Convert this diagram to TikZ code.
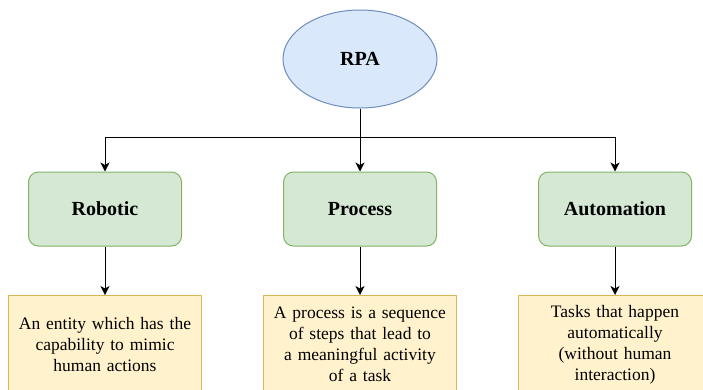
\documentclass[tikz,border=0pt]{standalone}
\usepackage{fontspec}
\setmainfont{Liberation Serif}
\usetikzlibrary{arrows.meta,shapes.geometric,positioning}

\definecolor{blueFill}{HTML}{DAE8FC}
\definecolor{blueLine}{HTML}{6C8EBF}
\definecolor{greenFill}{HTML}{D5E8D4}
\definecolor{greenLine}{HTML}{82B366}
\definecolor{yellowFill}{HTML}{FFF2CC}
\definecolor{yellowLine}{HTML}{D6B656}

\begin{document}
\begin{tikzpicture}[x=1pt,y=-1pt,
  rootnode/.style={ellipse,draw=blueLine,fill=blueFill,line width=1pt,minimum width=154pt,minimum height=98pt,inner sep=0pt,font=\fontsize{20}{24}\selectfont\bfseries},
  partbox/.style={rectangle,rounded corners=10pt,draw=greenLine,fill=greenFill,line width=1pt,minimum width=153pt,minimum height=74pt,inner sep=0pt,font=\fontsize{20}{24}\selectfont\bfseries},
  notebox/.style={rectangle,draw=yellowLine,fill=yellowFill,line width=1pt,minimum width=193pt,minimum height=98pt,text width=185pt,align=center,inner sep=0pt,anchor=north,font=\fontsize{17.5}{21}\selectfont},
  link/.style={line width=1pt,-{Stealth[length=9pt,width=9pt,inset=2.5pt]}}]
\clip (0,0) rectangle (703,389);
\fill[white] (0,0) rectangle (703,389);

\node[rootnode] (rpa) at (360,59) {RPA};
\coordinate (split) at (360,137);

\node[partbox] (robotic) at (105,209) {Robotic};
\node[partbox] (process) at (360,209) {Process};
\node[partbox] (automation) at (615,209) {Automation};

\node[notebox] (roboticnote) at (105,295) {An entity which has the\\capability to mimic\\human actions};
\node[notebox] (processnote) at (360,295) {A process is a sequence\\of steps that lead to\\a meaningful activity\\of a task};
\node[notebox] (automationnote) at (615,295) {Tasks that happen\\automatically\\(without human\\interaction)};

\draw[line width=1pt] (rpa) -- (split);
\draw[link] (split) -| (robotic);
\draw[link] (split) -- (process);
\draw[link] (split) -| (automation);

\draw[link] (robotic) -- (roboticnote);
\draw[link] (process) -- (processnote);
\draw[link] (automation) -- (automationnote);
\end{tikzpicture}
\end{document}
